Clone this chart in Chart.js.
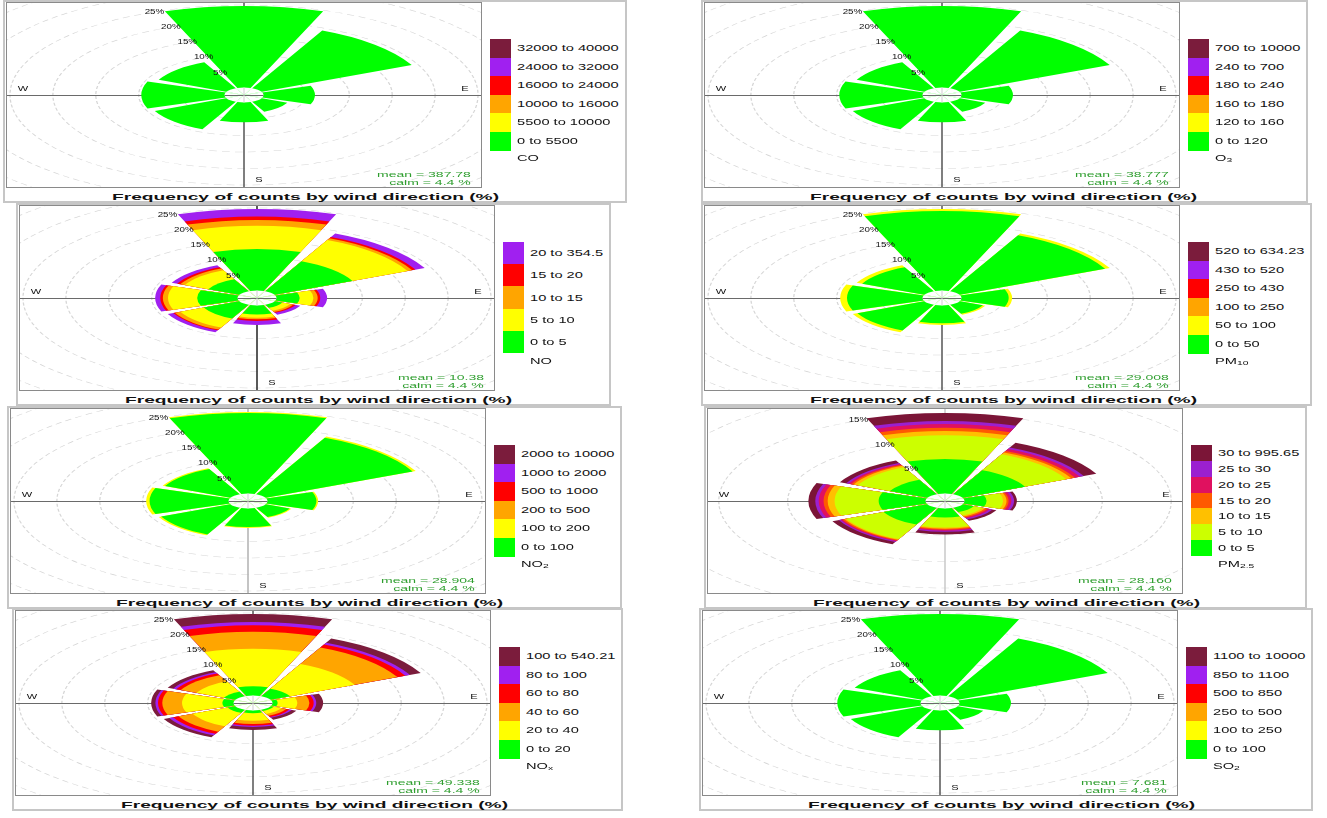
<!DOCTYPE html>
<html>
<head>
<meta charset="utf-8">
<title>Wind roses</title>
<script src="https://cdn.jsdelivr.net/npm/chart.js@4.4.1/dist/chart.umd.min.js"></script>
<style>
  html, body { margin: 0; padding: 0; background: #fff; }
  #page { position: relative; width: 1327px; height: 818px; overflow: hidden; font-family: "Liberation Sans", Arial, sans-serif; color: #111; }
  .frame { position: absolute; box-sizing: border-box; border: 2px solid #c6c6c6; background: #fff; }
  .plot { position: absolute; width: 474px; height: 184px; border: 1px solid #8a8a8a; overflow: hidden; background: #fff; }
  .plot canvas { position: absolute; left: 0; top: -145px; }
  .stats { position: absolute; right: 10px; height: 8px; color: #2e9e2e; font-size: 7px; line-height: 8px; white-space: nowrap; transform-origin: right center; transform: scaleX(2); }
  .sw { position: absolute; width: 21px; }
  .kl { position: absolute; font-size: 8.5px; line-height: 10px; white-space: nowrap; transform-origin: left center; transform: scaleX(1.72); }
  .title { position: absolute; font-weight: bold; font-size: 9.5px; line-height: 12px; white-space: nowrap; transform-origin: left center; }
  sub { font-size: 6px; line-height: 0; vertical-align: -1px; }
</style>
</head>
<body>
<div id="page"></div>
<script>
// wind sectors, clockwise from north
const dirs = ['N', 'NE', 'E', 'SE', 'S', 'SW', 'W', 'NW'];
const pctTicks = [5, 10, 15, 20, 25];
const pm25Ticks = [5, 10, 15];

// colours, lowest class first
const sixColors = ['#00ff00', '#ffff00', '#ffa500', '#ff0000', '#a020f0', '#7b1c3c'];
const fiveColors = ['#00ff00', '#ffff00', '#ffa500', '#ff0000', '#a020f0'];
const pm25Colors = ['#00ff00', '#ccff00', '#ffc000', '#ff5a00', '#e0115f', '#9b20d0', '#7b1537'];

// concentration classes, lowest first
const coBins = ['0 to 5500', '5500 to 10000', '10000 to 16000', '16000 to 24000', '24000 to 32000', '32000 to 40000'];
const o3Bins = ['0 to 120', '120 to 160', '160 to 180', '180 to 240', '240 to 700', '700 to 10000'];
const noBins = ['0 to 5', '5 to 10', '10 to 15', '15 to 20', '20 to 354.5'];
const pm10Bins = ['0 to 50', '50 to 100', '100 to 250', '250 to 430', '430 to 520', '520 to 634.23'];
const no2Bins = ['0 to 100', '100 to 200', '200 to 500', '500 to 1000', '1000 to 2000', '2000 to 10000'];
const pm25Bins = ['0 to 5', '5 to 10', '10 to 15', '15 to 20', '20 to 25', '25 to 30', '30 to 995.65'];
const noxBins = ['0 to 20', '20 to 40', '40 to 60', '60 to 80', '80 to 100', '100 to 540.21'];
const so2Bins = ['0 to 100', '100 to 250', '250 to 500', '500 to 850', '850 to 1100', '1100 to 10000'];

// frequency (%) of each class per sector: one row per class, columns follow dirs
const coFreq = [
  [24.7, 19.3, 6.0, 3.3, 6.0, 9.2, 9.7, 8.7],
  [0, 0, 0, 0, 0, 0, 0, 0],
  [0, 0, 0, 0, 0, 0, 0, 0],
  [0, 0, 0, 0, 0, 0, 0, 0],
  [0, 0, 0, 0, 0, 0, 0, 0],
  [0, 0, 0, 0, 0, 0, 0, 0]
];
const o3Freq = [
  [24.7, 19.3, 6.0, 3.3, 6.0, 9.2, 9.7, 8.7],
  [0, 0, 0, 0, 0, 0, 0, 0],
  [0, 0, 0, 0, 0, 0, 0, 0],
  [0, 0, 0, 0, 0, 0, 0, 0],
  [0, 0, 0, 0, 0, 0, 0, 0],
  [0, 0, 0, 0, 0, 0, 0, 0]
];
const noFreq = [
  [12.6, 10.0, 2.7, 1.0, 2.7, 4.6, 4.7, 4.0],
  [7.0, 7.1, 1.6, 1.0, 1.0, 3.0, 3.4, 3.0],
  [1.8, 0.6, 0.5, 0.4, 0.5, 0.7, 0.6, 0.6],
  [1.0, 0.4, 0.3, 0.3, 0.5, 0.2, 0.3, 0.4],
  [2.3, 1.2, 0.8, 0.6, 1.2, 0.7, 0.6, 0.7]
];
const pm10Freq = [
  [24.1, 18.7, 5.5, 3.0, 5.4, 8.6, 8.8, 8.0],
  [0.6, 0.6, 0.4, 0.3, 0.5, 0.6, 0.8, 0.7],
  [0, 0, 0, 0, 0, 0, 0, 0],
  [0, 0, 0, 0, 0, 0, 0, 0],
  [0, 0, 0, 0, 0, 0, 0, 0],
  [0, 0, 0, 0, 0, 0, 0, 0]
];
const no2Freq = [
  [24.4, 18.9, 5.7, 3.1, 5.6, 8.9, 9.2, 8.4],
  [0.3, 0.4, 0.2, 0.2, 0.3, 0.3, 0.4, 0.3],
  [0, 0, 0, 0, 0, 0, 0, 0],
  [0, 0, 0, 0, 0, 0, 0, 0],
  [0, 0, 0, 0, 0, 0, 0, 0],
  [0, 0, 0, 0, 0, 0, 0, 0]
];
const pm25Freq = [
  [6.5, 5.0, 1.6, 0.9, 1.7, 3.5, 3.4, 3.0],
  [4.5, 3.3, 1.2, 0.7, 1.9, 3.0, 3.2, 2.6],
  [0.8, 0.4, 0.25, 0.2, 0.2, 0.15, 0.5, 0.3],
  [0.6, 0.3, 0.15, 0.2, 0.2, 0.15, 0.3, 0.2],
  [0.7, 0.4, 0.2, 0.2, 0.2, 0.15, 0.35, 0.2],
  [0.6, 0.3, 0.2, 0.2, 0.2, 0.15, 0.25, 0.2],
  [1.5, 1.0, 0.2, 0.3, 0.5, 0.5, 0.5, 0.5]
];
const noxFreq = [
  [2.8, 2.5, 0.6, 0.4, 0.8, 1.0, 1.3, 1.5],
  [11.4, 8.3, 2.3, 1.0, 2.3, 4.5, 4.7, 3.5],
  [5.1, 5.5, 1.4, 0.6, 1.0, 1.8, 2.3, 2.0],
  [2.0, 1.0, 0.5, 0.4, 0.5, 0.7, 0.5, 0.6],
  [1.0, 0.6, 0.3, 0.3, 0.4, 0.5, 0.3, 0.4],
  [2.4, 1.4, 0.8, 0.6, 0.9, 0.7, 0.5, 0.7]
];
const so2Freq = [
  [24.7, 19.3, 6.0, 3.3, 6.0, 9.2, 9.7, 8.7],
  [0, 0, 0, 0, 0, 0, 0, 0],
  [0, 0, 0, 0, 0, 0, 0, 0],
  [0, 0, 0, 0, 0, 0, 0, 0],
  [0, 0, 0, 0, 0, 0, 0, 0],
  [0, 0, 0, 0, 0, 0, 0, 0]
];

const calm = '4.4 %';
const titleText = 'Frequency of counts by wind direction (%)';

// the source figure is stretched sideways, so every rose is too
const k = 2.6;
const holePx = 7.5;
const wedgeDeg = 40, gapDeg = 5;

const panels = [
  { freq: coFreq, bins: coBins, colors: sixColors, name: 'CO', mean: '387.78', ticks: pctTicks, step: 3.3, x: 6, y: 2 },
  { freq: o3Freq, bins: o3Bins, colors: sixColors, name: 'O<sub>3</sub>', mean: '38.777', ticks: pctTicks, step: 3.3, x: 704, y: 2 },
  { freq: noFreq, bins: noBins, colors: fiveColors, name: 'NO', mean: '10.38', ticks: pctTicks, step: 3.3, x: 19, y: 205, vColor: '#222' },
  { freq: pm10Freq, bins: pm10Bins, colors: sixColors, name: 'PM<sub>10</sub>', mean: '29.008', ticks: pctTicks, step: 3.3, x: 704, y: 205 },
  { freq: no2Freq, bins: no2Bins, colors: sixColors, name: 'NO<sub>2</sub>', mean: '28.904', ticks: pctTicks, step: 3.3, x: 10, y: 408, vColor: '#b0b0b0' },
  { freq: pm25Freq, bins: pm25Bins, colors: pm25Colors, name: 'PM<sub>2.5</sub>', mean: '28.160', ticks: pm25Ticks, step: 5.3, x: 707, y: 408, vColor: '#c8c8c8' },
  { freq: noxFreq, bins: noxBins, colors: sixColors, name: 'NO<sub>x</sub>', mean: '49.338', ticks: pctTicks, step: 3.3, x: 15, y: 610 },
  { freq: so2Freq, bins: so2Bins, colors: sixColors, name: 'SO<sub>2</sub>', mean: '7.681', ticks: pctTicks, step: 3.3, x: 702, y: 610 }
];

function stretchedText(ctx, s, x, y, sx) {
  ctx.save();
  ctx.translate(x, y);
  ctx.scale(sx, 1);
  ctx.textAlign = 'center';
  ctx.textBaseline = 'middle';
  ctx.fillText(s, 0, 0);
  ctx.restore();
}

const roseDecor = {
  id: 'roseDecor',
  beforeDraw(chart, args, o) {
    const r = chart.scales.r, ctx = chart.ctx;
    ctx.save();
    ctx.translate(r.xCenter, 0);
    ctx.scale(o.k, 1);
    ctx.translate(-r.xCenter, 0);
  },
  beforeDatasetsDraw(chart, args, o) {
    // compass cross, drawn unstretched so the lines keep their width
    const r = chart.scales.r, ctx = chart.ctx, dpr = chart.currentDevicePixelRatio;
    ctx.save();
    ctx.setTransform(dpr, 0, 0, dpr, 0, 0);
    ctx.strokeStyle = o.hColor;
    ctx.lineWidth = 1;
    ctx.beginPath();
    ctx.moveTo(0, r.yCenter + 0.5);
    ctx.lineTo(chart.width, r.yCenter + 0.5);
    ctx.stroke();
    ctx.strokeStyle = o.vColor;
    ctx.lineWidth = 1.5;
    ctx.beginPath();
    ctx.moveTo(r.xCenter, 0);
    ctx.lineTo(r.xCenter, chart.height);
    ctx.stroke();
    ctx.restore();
  },
  afterDatasetsDraw(chart, args, o) {
    // the cross shows through the calm hole
    const r = chart.scales.r, ctx = chart.ctx, dpr = chart.currentDevicePixelRatio;
    const h = r.getDistanceFromCenterForValue(0);
    ctx.save();
    ctx.setTransform(dpr, 0, 0, dpr, 0, 0);
    ctx.strokeStyle = o.hColor;
    ctx.lineWidth = 1;
    ctx.beginPath();
    ctx.moveTo(r.xCenter - o.k * h, r.yCenter + 0.5);
    ctx.lineTo(r.xCenter + o.k * h, r.yCenter + 0.5);
    ctx.stroke();
    ctx.strokeStyle = '#cfcfcf';
    ctx.beginPath();
    ctx.moveTo(r.xCenter, r.yCenter - h);
    ctx.lineTo(r.xCenter, r.yCenter + h);
    ctx.stroke();
    ctx.restore();
  },
  afterDraw(chart, args, o) {
    const r = chart.scales.r, ctx = chart.ctx;
    ctx.restore();
    ctx.fillStyle = '#111';
    ctx.font = '6.5px "Liberation Sans", Arial, sans-serif';
    const a = -22.5 * Math.PI / 180;
    o.ticks.forEach(v => {
      const d = r.getDistanceFromCenterForValue(v);
      stretchedText(ctx, v + '%', r.xCenter + o.k * d * Math.sin(a), r.yCenter - d * Math.cos(a), 1.5);
    });
    const c = 85;
    stretchedText(ctx, 'W', r.xCenter - o.k * c, r.yCenter - 6, 1.7);
    stretchedText(ctx, 'E', r.xCenter + o.k * c, r.yCenter - 6, 1.7);
    stretchedText(ctx, 'S', r.xCenter + 15, r.yCenter + c, 1.7);
  }
};

function buildDatasets(freq, colors, lo) {
  const sets = [];
  let run = dirs.map(() => 0);
  freq.forEach((row, b) => {
    run = run.map((v, i) => v + row[i]);
    const vals = [];
    run.forEach((v, i) => { vals.push(row[i] > 0 ? v : lo); vals.push(lo); });
    sets.push({ data: vals, backgroundColor: colors[b] });
  });
  // white calm hole drawn last, on top
  sets.unshift({ data: dirs.flatMap(() => [0, 0]), backgroundColor: '#ffffff' });
  sets.forEach(s => {
    s.borderWidth = 0;
    s.clip = false;
    s.angle = c => (c.index % 2 ? gapDeg : wedgeDeg);
  });
  return sets;
}

const page = document.getElementById('page');
const measure = document.createElement('canvas').getContext('2d');

function add(cls, style, html, parent) {
  const d = document.createElement('div');
  d.className = cls;
  Object.assign(d.style, style);
  if (html !== undefined) d.innerHTML = html;
  (parent || page).appendChild(d);
  return d;
}

panels.forEach(p => {
  const keyLeft = p.x + 476 + 8;
  const labelLeft = keyLeft + 21 + 6;
  measure.font = '8.5px "Liberation Sans", Arial, sans-serif';
  const maxW = Math.max(...p.bins.map(b => measure.measureText(b).width)) * 1.72;

  add('frame', { left: (p.x - 3) + 'px', top: (p.y - 2) + 'px', width: (labelLeft + maxW + 8 - (p.x - 3)) + 'px', height: '203px' });

  const plot = add('plot', { left: p.x + 'px', top: p.y + 'px' });
  const canvas = document.createElement('canvas');
  canvas.width = 474;
  canvas.height = 474;
  canvas.style.width = '474px';
  canvas.style.height = '474px';
  plot.appendChild(canvas);

  add('stats', { top: '168px' }, 'mean = ' + p.mean, plot);
  add('stats', { top: '176px' }, 'calm = ' + calm, plot);

  // key, highest class on top
  const n = p.bins.length, boxH = 111 / n, keyTop = p.y + 37;
  for (let i = 0; i < n; i++) {
    const b = n - 1 - i;
    const top = keyTop + i * boxH;
    add('sw', { left: keyLeft + 'px', top: top + 'px', height: (boxH + 0.5) + 'px', background: p.colors[b] });
    add('kl', { left: labelLeft + 'px', top: (top + boxH / 2 - 5) + 'px' }, p.bins[b]);
  }
  add('kl', { left: labelLeft + 'px', top: (keyTop + 111 + 3) + 'px' }, p.name);

  measure.font = 'bold 9.5px "Liberation Sans", Arial, sans-serif';
  const tw = measure.measureText(titleText).width;
  add('title', { left: (p.x + 106) + 'px', top: (p.y + 189) + 'px', transform: 'scaleX(' + (387 / tw).toFixed(3) + ')' }, titleText);

  const lo = -holePx / p.step;
  const hi = lo + (canvas.height / 2) / p.step;

  new Chart(canvas, {
    type: 'polarArea',
    data: {
      labels: dirs.flatMap(d => [d, '']),
      datasets: buildDatasets(p.freq, p.colors, lo)
    },
    options: {
      responsive: false,
      animation: false,
      events: [],
      layout: { padding: 0 },
      plugins: {
        legend: { display: false },
        tooltip: { enabled: false },
        roseDecor: { k: k, ticks: p.ticks, hColor: '#6a6a6a', vColor: p.vColor || '#555' }
      },
      scales: {
        r: {
          min: lo,
          max: hi,
          startAngle: -wedgeDeg / 2,
          ticks: { display: false, stepSize: 5 },
          grid: {
            circular: true,
            lineWidth: 0.5,
            color: c => (c.tick && c.tick.value > 0 && c.tick.value % 5 === 0) ? '#d6d6d6' : 'rgba(0,0,0,0)'
          },
          border: { dash: [3, 2] },
          angleLines: { display: false },
          pointLabels: { display: false }
        }
      }
    },
    plugins: [roseDecor]
  });
});
</script>
</body>
</html>
